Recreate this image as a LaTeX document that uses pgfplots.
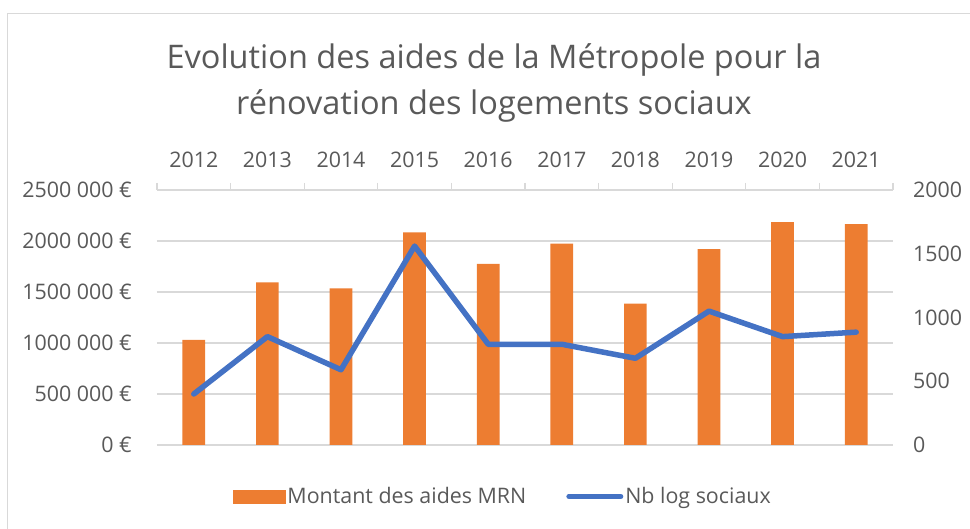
\documentclass[border=0pt]{standalone}
\usepackage{pgfplots}
\pgfplotsset{compat=1.18}
\usepackage{fontspec}
\setmainfont{Open Sans}
\definecolor{barc}{HTML}{ED7D31}
\definecolor{linec}{HTML}{4472C4}
\definecolor{txt}{HTML}{595959}
\definecolor{gridc}{HTML}{D9D9D9}
\begin{document}
\begin{tikzpicture}[x=1pt,y=1pt]
\useasboundingbox (0,0) rectangle (970,529);
\draw[gridc,line width=1.3pt] (7.5,0) -- (7.5,515.5) -- (970,515.5);
\node[anchor=base,text=txt,font=\fontsize{32.5}{38}\selectfont] at (494,460.7) {Evolution des aides de la Métropole pour la};
\node[anchor=base,text=txt,font=\fontsize{32.5}{38}\selectfont] at (494,414.7) {rénovation des logements sociaux};
\begin{axis}[
  at={(157pt,84pt)}, anchor=south west,
  scale only axis, width=736pt, height=255pt,
  xmin=-0.5, xmax=9.5, ymin=0, ymax=2500000,
  scaled y ticks=false,
  axis x line*=top, axis y line*=left,
  y axis line style={draw=none},
  x axis line style={gridc,line width=1.3pt},
  xtick={-0.5,0.5,...,9.5},
  x tick label as interval,
  xticklabels={2012,2013,2014,2015,2016,2017,2018,2019,2020,2021},
  xtick style={gridc,line width=1.3pt},
  tick align=outside,
  major tick length=7pt,
  ytick={0,500000,1000000,1500000,2000000,2500000},
  yticklabels={0 €,500 000 €,1000 000 €,1500 000 €,2000 000 €,2500 000 €},
  y tick style={draw=none},
  ymajorgrids, grid style={gridc,line width=1.3pt},
  ticklabel style={text=txt,font=\fontsize{21.4}{26}\selectfont},
  yticklabel style={anchor=east,inner sep=0pt,xshift=-18pt},
  xticklabel style={anchor=base,yshift=15pt},
  clip=false,
]
\addplot[ybar, bar width=22.7pt, fill=barc, draw=none] coordinates {
(0,1030000) (1,1595000) (2,1535000) (3,2085000) (4,1775000)
(5,1975000) (6,1385000) (7,1920000) (8,2185000) (9,2165000)};
\end{axis}
\begin{axis}[
  at={(157pt,84pt)}, anchor=south west,
  scale only axis, width=736pt, height=255pt,
  xmin=-0.5, xmax=9.5, ymin=0, ymax=2000,
  hide x axis,
  axis y line*=right,
  y axis line style={draw=none},
  y tick style={draw=none},
  ytick={0,500,1000,1500,2000},
  yticklabels={0,500,1000,1500,2000},
  yticklabel style={anchor=west,inner sep=0pt,xshift=20pt,text=txt,font=\fontsize{21.4}{26}\selectfont},
  clip=false,
  legend style={at={(0.470,-0.202)}, anchor=center, draw=none, fill=none,
    legend columns=2, font=\fontsize{21.4}{26}\selectfont, text=txt,
    /tikz/every even column/.append style={column sep=38pt},
    nodes={inner sep=2pt}},
]
\addlegendimage{legend image code/.code={\fill[barc] (0pt,-6.5pt) rectangle (52pt,6.5pt);}}
\addlegendentry{Montant des aides MRN}
\addplot[linec, line width=5.5pt, line join=round, line cap=round,
  legend image code/.code={\draw[linec,line width=5pt,line cap=round] (2.5pt,0pt) -- (54.5pt,0pt);}]
coordinates {
(0,400) (1,850) (2,590) (3,1560) (4,790)
(5,790) (6,680) (7,1050) (8,850) (9,885)};
\addlegendentry{Nb log sociaux}
\end{axis}
\end{tikzpicture}
\end{document}
